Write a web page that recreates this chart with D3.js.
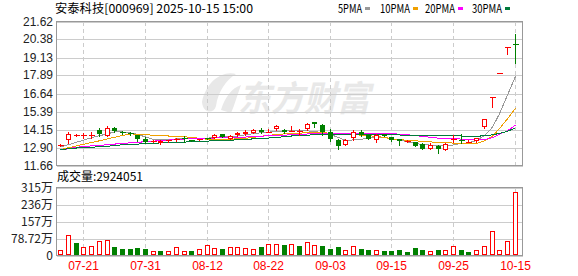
<!DOCTYPE html>
<html>
<head>
<meta charset="utf-8">
<script src="https://cdn.jsdelivr.net/npm/d3@7"></script>
<style>
body { margin: 0; background: #fff; }
svg { display: block; }
</style>
</head>
<body>
<svg id="chart"></svg>
<script>
var width = 578,
    height = 276;

// trading days shown
var dates = ["07-16","07-17","07-18","07-21","07-22","07-23","07-24","07-25","07-28","07-29",
             "07-30","07-31","08-01","08-04","08-05","08-06","08-07","08-08","08-11","08-12",
             "08-13","08-14","08-15","08-18","08-19","08-20","08-21","08-22","08-25","08-26",
             "08-27","08-28","08-29","09-01","09-02","09-03","09-04","09-05","09-08","09-09",
             "09-10","09-11","09-12","09-15","09-16","09-17","09-18","09-19","09-22","09-23",
             "09-24","09-25","09-26","09-29","09-30","10-09","10-10","10-13","10-14","10-15"];

var open  = [13.09,13.44,13.74,13.74,13.75,14.10,13.73,14.28,14.01,13.91,
             13.75,13.47,13.35,13.22,13.36,13.40,13.55,13.42,13.46,13.54,
             13.58,13.82,13.52,13.75,13.82,13.91,14.10,13.97,14.17,14.14,
             14.05,14.00,14.19,14.69,14.44,13.96,13.45,13.11,13.59,14.01,
             13.75,13.45,13.84,13.63,13.50,13.33,13.29,13.18,12.81,13.04,
             12.76,13.46,13.42,13.30,13.33,14.31,16.39,18.03,19.83,20.05];
var close = [13.10,13.82,13.76,13.76,13.77,13.82,14.28,14.05,13.92,13.82,
             13.47,13.32,13.37,13.36,13.40,13.48,13.53,13.40,13.48,13.52,
             13.80,13.64,13.73,13.93,13.96,14.10,13.96,13.99,14.39,13.96,
             14.07,14.02,14.51,14.51,13.96,13.50,13.01,13.45,14.01,13.75,
             13.52,13.80,13.73,13.40,13.36,13.35,13.01,12.83,13.11,12.81,
             13.15,13.48,13.40,13.32,13.55,14.90,16.39,18.03,19.83,19.98];
var high  = [13.16,13.98,13.83,13.91,13.98,14.23,14.37,14.30,14.08,13.95,
             13.78,13.60,13.42,13.40,13.45,13.55,13.68,13.45,13.52,13.58,
             13.86,13.86,13.78,13.96,14.10,14.21,14.23,14.19,14.43,14.18,
             14.39,14.21,14.58,14.69,14.51,14.21,13.48,13.48,14.10,14.10,
             13.78,13.83,13.87,13.66,13.52,13.42,13.32,13.20,13.20,13.08,
             13.20,13.75,13.82,13.40,13.58,14.90,16.39,18.03,19.83,20.77];
var low   = [13.03,13.25,13.70,13.59,13.56,13.68,13.68,14.00,13.85,13.75,
             13.34,13.20,13.30,13.18,13.32,13.35,13.29,13.36,13.43,13.48,
             13.55,13.60,13.50,13.72,13.80,13.88,13.93,13.95,14.14,13.92,
             14.03,13.75,14.14,14.34,13.75,13.34,12.78,13.08,13.45,13.68,
             13.50,13.27,13.70,13.38,13.11,13.27,12.99,12.80,12.78,12.53,
             12.73,13.27,13.20,13.28,13.27,14.28,15.70,18.03,19.39,18.74];
var prevClose = 13.05;

// volume, in 万 shares
var volume = [25,97,56,39,44,65,74,39,30,30,
              34,30,21,20,22,38,22,20,28,50,
              34,28,40,40,35,30,40,52,52,48,
              51,44,61,48,44,30,39,24,44,30,
              25,24,21,21,25,15,34,25,19,25,
              25,44,25,15,24,44,113,24,67,292.4051];

var ma5  = [12.94,13.10,13.27,13.41,13.58,13.72,13.85,13.98,13.98,13.92,
            13.82,13.63,13.47,13.44,13.44,13.50,13.52,13.52,13.53,13.55,
            13.62,13.64,13.66,13.70,13.78,13.87,13.92,13.96,14.03,14.05,
            14.07,14.10,14.06,14.00,13.95,13.80,13.60,13.40,13.43,13.48,
            13.55,13.60,13.60,13.52,13.41,13.30,13.18,13.12,13.07,13.05,
            12.98,13.08,13.19,13.23,13.38,13.73,14.31,15.24,16.54,17.83];
var ma10 = [12.76,12.89,13.01,13.13,13.25,13.37,13.50,13.61,13.74,13.85,
            13.82,13.79,13.75,13.73,13.70,13.68,13.65,13.60,13.54,13.47,
            13.47,13.47,13.47,13.51,13.54,13.61,13.68,13.75,13.80,13.85,
            13.88,13.90,13.92,13.93,13.93,13.89,13.85,13.81,13.79,13.76,
            13.72,13.67,13.60,13.51,13.44,13.41,13.37,13.33,13.29,13.26,
            13.24,13.21,13.19,13.18,13.18,13.36,13.69,14.21,14.89,15.61];
var ma20 = [12.72,12.82,12.92,12.97,13.02,13.05,13.10,13.14,13.19,13.23,
            13.27,13.30,13.34,13.39,13.42,13.45,13.49,13.52,13.53,13.54,
            13.56,13.57,13.59,13.61,13.63,13.66,13.69,13.72,13.74,13.76,
            13.79,13.81,13.84,13.87,13.87,13.88,13.88,13.87,13.87,13.87,
            13.88,13.88,13.87,13.86,13.83,13.79,13.73,13.67,13.61,13.55,
            13.52,13.50,13.49,13.47,13.46,13.45,13.58,13.82,14.06,14.45];
var ma30 = [12.76,12.82,12.87,12.91,12.93,12.95,12.99,13.04,13.09,13.12,
            13.14,13.17,13.20,13.22,13.24,13.25,13.28,13.31,13.33,13.35,
            13.37,13.39,13.41,13.44,13.47,13.50,13.52,13.56,13.60,13.65,
            13.70,13.74,13.76,13.79,13.79,13.80,13.80,13.79,13.79,13.78,
            13.78,13.78,13.77,13.77,13.77,13.76,13.76,13.75,13.74,13.73,
            13.72,13.71,13.70,13.69,13.69,13.71,13.78,13.88,14.03,14.26];

var priceTicks = [11.66,12.90,14.15,15.39,16.64,17.89,19.13,20.38,21.62];
var volTicks = [0,78.72,157.44,236.16,314.88];
var volTickLabels = ["0","78.72万","157万","236万","315万"];
var dateTicks = ["07-21","07-31","08-12","08-22","09-03","09-15","09-25","10-15"];

var maNames = ["5PMA","10PMA","20PMA","30PMA"];
var maSeries = [ma5, ma10, ma20, ma30];
var maColors = ["#999999","#f0a000","#ff00ff","#007a3c"];

var red = "#ff0000",
    green = "#008000";

var svg = d3.select("#chart")
    .attr("width", width)
    .attr("height", height)
    .style("font-family", "'Noto Sans CJK SC', 'Liberation Sans', sans-serif");

var left = 56.5, right = 522.5;

var x = d3.scaleBand()
    .domain(dates)
    .range([56.5, 518.5]);
function cx(d) { return Math.round(x(d) + x.bandwidth() / 2) + 0.5; }

var y = d3.scaleLinear()
    .domain([11.66, 21.62])
    .range([165.5, 21.5]);

var yv = d3.scaleLinear()
    .domain([0, 314.88])
    .range([255.5, 187.5]);

var bars = dates.map(function(d, i) {
    return {date: d, o: open[i], c: close[i], h: high[i], l: low[i], v: volume[i],
            pc: i ? close[i - 1] : prevClose};
});

// header
svg.append("text")
    .attr("x", 55).attr("y", 13)
    .attr("font-size", 12).attr("fill", "#000")
    .attr("textLength", 198).attr("lengthAdjust", "spacingAndGlyphs")
    .text("安泰科技[000969] 2025-10-15 15:00");

var legX = [338, 380, 425, 472];
var legW = [24, 30, 30, 30];
maNames.forEach(function(n, i) {
    svg.append("text")
        .attr("x", legX[i]).attr("y", 13)
        .attr("font-size", 12).attr("fill", "#000")
        .attr("textLength", legW[i]).attr("lengthAdjust", "spacingAndGlyphs")
        .text(n);
    svg.append("rect")
        .attr("x", legX[i] + legW[i] + 3).attr("y", 7)
        .attr("width", 5).attr("height", 3)
        .attr("fill", maColors[i]);
});

// watermark
var wm = svg.append("g").attr("fill", "#e8e8e8");
wm.append("path")
    .attr("d", "M202,102 C206,82 222,70 236,74 C226,80 218,92 216,106 C214,114 203,114 202,102 Z M221,110 C225,97 232,88 241,85 C237,96 235,104 231,113 Z");
wm.append("text")
    .attr("x", 238).attr("y", 111)
    .attr("font-size", 35).attr("font-weight", "bold").attr("font-style", "italic")
    .attr("textLength", 132).attr("lengthAdjust", "spacingAndGlyphs")
    .text("东方财富");

// grids
function gridPanel(ticks, scale, top, bottom) {
    var g = svg.append("g").attr("shape-rendering", "crispEdges");
    g.selectAll("line.h")
        .data(ticks)
        .enter().append("line")
            .attr("x1", left).attr("x2", right)
            .attr("y1", function(d) { return Math.round(scale(d)) + 0.5; })
            .attr("y2", function(d) { return Math.round(scale(d)) + 0.5; })
            .attr("stroke", "#cccccc");
    g.selectAll("line.v")
        .data(dateTicks)
        .enter().append("line")
            .attr("x1", cx).attr("x2", cx)
            .attr("y1", top).attr("y2", bottom)
            .attr("stroke", "#cccccc")
            .attr("stroke-dasharray", "4,3");
    g.append("rect")
        .attr("x", left).attr("y", top)
        .attr("width", right - left).attr("height", bottom - top)
        .attr("fill", "none").attr("stroke", "#999999");
}
gridPanel(priceTicks, y, 21.5, 165.5);
gridPanel(volTicks, yv, 187.5, 255.5);

// y labels
svg.append("g")
    .selectAll("text")
    .data(priceTicks)
    .enter().append("text")
        .attr("x", 53)
        .attr("y", function(d) { return y(d) + 4; })
        .attr("text-anchor", "end")
        .attr("font-size", 12)
        .attr("font-family", "'Liberation Sans', sans-serif")
        .attr("fill", "#222")
        .text(function(d) { return d.toFixed(2); });

svg.append("g")
    .selectAll("text")
    .data(volTicks)
    .enter().append("text")
        .attr("x", 53)
        .attr("y", function(d) { return yv(d) + 4; })
        .attr("text-anchor", "end")
        .attr("font-size", 12)
        .attr("fill", "#222")
        .text(function(d, i) { return volTickLabels[i]; });

svg.append("text")
    .attr("x", 57).attr("y", 181)
    .attr("font-size", 12).attr("fill", "#000")
    .text("成交量:" + Math.round(volume[volume.length - 1] * 10000));

// date labels
svg.append("g")
    .selectAll("text")
    .data(dateTicks)
    .enter().append("text")
        .attr("x", cx)
        .attr("y", 270)
        .attr("text-anchor", "middle")
        .attr("font-size", 12)
        .attr("font-family", "'Liberation Sans', sans-serif")
        .attr("fill", red)
        .text(function(d) { return d; });

// moving averages
var line = d3.line()
    .x(function(d, i) { return cx(dates[i]); })
    .y(function(d) { return y(d); });
maSeries.forEach(function(s, i) {
    svg.append("path")
        .datum(s)
        .attr("d", line)
        .attr("fill", "none")
        .attr("stroke", maColors[i])
        .attr("stroke-width", 1)
        .attr("shape-rendering", "crispEdges");
});

// candles
var cg = svg.append("g").attr("shape-rendering", "crispEdges");
bars.forEach(function(b) {
    var xc = cx(b.date);
    var col = b.c >= b.o ? red : green;
    var top = Math.round(y(Math.max(b.o, b.c))),
        bot = Math.round(y(Math.min(b.o, b.c)));
    cg.append("line")
        .attr("x1", xc).attr("x2", xc)
        .attr("y1", Math.round(y(b.h))).attr("y2", Math.round(y(b.l)) + 1)
        .attr("stroke", col);
    if (bot - top < 2) {
        cg.append("line")
            .attr("x1", xc - 3).attr("x2", xc + 3)
            .attr("y1", top + 0.5).attr("y2", top + 0.5)
            .attr("stroke", col);
    } else if (b.c >= b.o) {
        cg.append("rect")
            .attr("x", xc - 2).attr("y", top + 0.5)
            .attr("width", 4).attr("height", bot - top - 1)
            .attr("fill", "#fff").attr("stroke", red);
    } else {
        cg.append("rect")
            .attr("x", xc - 2.5).attr("y", top)
            .attr("width", 5).attr("height", bot - top)
            .attr("fill", green);
    }
});

// volume bars
var vg = svg.append("g").attr("shape-rendering", "crispEdges");
bars.forEach(function(b) {
    var xc = cx(b.date);
    var top = Math.round(yv(b.v));
    if (b.c >= b.pc) {
        vg.append("rect")
            .attr("x", xc - 2).attr("y", top + 0.5)
            .attr("width", 4).attr("height", 255 - top - 1)
            .attr("fill", "#fff").attr("stroke", red);
    } else {
        vg.append("rect")
            .attr("x", xc - 2.5).attr("y", top)
            .attr("width", 5).attr("height", 255 - top)
            .attr("fill", green);
    }
});
</script>
</body>
</html>
